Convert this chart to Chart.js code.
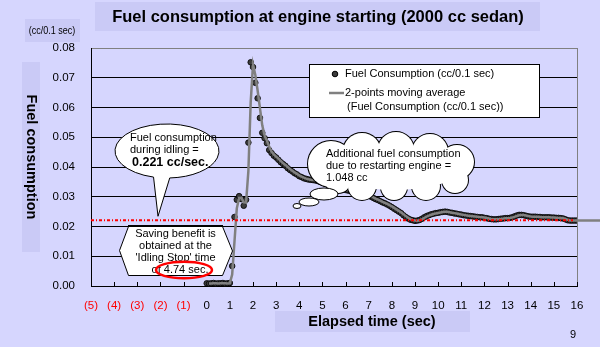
<!DOCTYPE html>
<html>
<head>
<meta charset="utf-8">
<title>Fuel consumption at engine starting</title>
<script src="https://cdn.jsdelivr.net/npm/chart.js@4"></script>
<style>
  html, body { margin: 0; padding: 0; background: #d6d6fe; }
  canvas { display: block; }
</style>
</head>
<body>
<canvas id="fuelChart" width="600" height="347"></canvas>
<script>
// fuel consumption per 0.1 s sample, starting at t = 0.0 s
const sampleStep = 0.1;
const fuelPerSample = [
  0.0009, 0.0008, 0.0009, 0.0010, 0.0008, 0.0009, 0.0009, 0.0010, 0.0008, 0.0009, 0.0010,
  0.0067, 0.0232, 0.0290, 0.0302, 0.0292, 0.0270, 0.0290, 0.0482, 0.0752,
  0.0736, 0.0683, 0.0631, 0.0565, 0.0515, 0.0497, 0.0480, 0.0457, 0.0447, 0.0438,
  0.0432, 0.0424, 0.0416, 0.0410, 0.0404, 0.0396, 0.0390, 0.0385, 0.0379, 0.0375,
  0.0369, 0.0366, 0.0362, 0.0360, 0.0358, 0.0357, 0.0356, 0.0355, 0.0353, 0.0350,
  0.0348, 0.0344, 0.0342, 0.0339, 0.0336, 0.0334, 0.0331, 0.0329, 0.0327, 0.0325,
  0.0323, 0.0321, 0.0320, 0.0318, 0.0317, 0.0315, 0.0314, 0.0313, 0.0312, 0.0310,
  0.0305, 0.0300, 0.0296, 0.0292, 0.0289, 0.0285, 0.0281, 0.0278, 0.0274, 0.0270,
  0.0265, 0.0260, 0.0255, 0.0250, 0.0245, 0.0238, 0.0232, 0.0227, 0.0223, 0.0221,
  0.0219, 0.0220, 0.0222, 0.0226, 0.0231, 0.0235, 0.0238, 0.0241, 0.0243, 0.0245,
  0.0246, 0.0248, 0.0249, 0.0250, 0.0249, 0.0247, 0.0246, 0.0244, 0.0243, 0.0241,
  0.0240, 0.0238, 0.0237, 0.0236, 0.0235, 0.0234, 0.0233, 0.0232, 0.0231, 0.0231,
  0.0229, 0.0228, 0.0226, 0.0225, 0.0224, 0.0224, 0.0225, 0.0226, 0.0227, 0.0228,
  0.0228, 0.0229, 0.0231, 0.0234, 0.0237, 0.0239, 0.0239, 0.0238, 0.0236, 0.0234,
  0.0233, 0.0233, 0.0233, 0.0232, 0.0232, 0.0231, 0.0231, 0.0231, 0.0231, 0.0230,
  0.0230, 0.0229, 0.0229, 0.0228, 0.0227, 0.0224, 0.0221, 0.0220, 0.0220, 0.0220,
  0.0220, 0.0220, 0.0221, 0.0220, 0.0221, 0.0220, 0.0220, 0.0221, 0.0220, 0.0220,
  0.0221
];

const xMin = -5, xMax = 16;          // (5)..(1) = seconds before stop, 0..16 after restart
const yMin = 0, yMax = 0.08, yStep = 0.01;
const idleRate = 0.221;              // cc/sec while idling
const extraFuel = 1.048;             // cc spent on restarting
const stopTime = 4.74;               // sec of idling stop that pays back

const FONT = '"Liberation Sans", Arial, sans-serif';
const BG = '#d6d6fe';
const BOX = '#cacaf6';

const samplePoints = fuelPerSample
  .map((v, i) => ({ x: +(i * sampleStep).toFixed(1), y: v }))
  .filter(p => p.x <= xMax);

// Excel-style 2-point moving average, plotted at the second sample
const movingAvg = [];
for (let i = 1; i < fuelPerSample.length; i++) {
  movingAvg.push({ x: +(i * sampleStep).toFixed(1), y: (fuelPerSample[i - 1] + fuelPerSample[i]) / 2 });
}

function txt(ctx, s, x, y, font, align, color) {
  ctx.font = font;
  ctx.textAlign = align || 'left';
  ctx.textBaseline = 'middle';
  ctx.fillStyle = color || '#000';
  ctx.fillText(s, x, y);
}

const decorations = {
  id: 'decorations',
  beforeDraw(chart) {
    const ctx = chart.ctx;
    ctx.save();
    ctx.fillStyle = BG;
    ctx.fillRect(0, 0, chart.width, chart.height);
    ctx.fillStyle = BOX;
    ctx.fillRect(95, 2, 445, 29);
    ctx.fillRect(25, 19, 55, 23);
    ctx.fillRect(22, 62, 18, 190);
    ctx.fillRect(275, 311, 195, 21);

    txt(ctx, 'Fuel consumption at engine starting (2000 cc sedan)', 318, 17, 'bold 16.5px ' + FONT, 'center');

    ctx.save();
    ctx.translate(52, 31);
    ctx.scale(0.9, 1.1);
    txt(ctx, '(cc/0.1 sec)', 0, 0, '10px ' + FONT, 'center');
    ctx.restore();

    ctx.save();
    ctx.translate(31, 157);
    ctx.rotate(Math.PI / 2);
    txt(ctx, 'Fuel consumption', 0, 0, 'bold 14.5px ' + FONT, 'center');
    ctx.restore();

    txt(ctx, 'Elapsed time (sec)', 372, 322, 'bold 14.5px ' + FONT, 'center');
    txt(ctx, '9', 573, 335, '11px ' + FONT, 'center');
    ctx.restore();
  },
  beforeDatasetsDraw(chart) {
    const { ctx, chartArea: a, scales: { x } } = chart;
    ctx.save();
    ctx.strokeStyle = '#808080';
    ctx.lineWidth = 1;
    ctx.beginPath();
    ctx.moveTo(Math.round(a.right) + 0.5, a.top);
    ctx.lineTo(Math.round(a.right) + 0.5, a.bottom);
    ctx.stroke();
    // inward tick marks on the time axis
    ctx.strokeStyle = '#000';
    ctx.beginPath();
    x.ticks.forEach(t => {
      const px = Math.round(x.getPixelForValue(t.value)) + 0.5;
      ctx.moveTo(px, a.bottom);
      ctx.lineTo(px, a.bottom - 4);
    });
    ctx.stroke();
    ctx.restore();
  },
  afterDatasetsDraw(chart) {
    const { ctx, scales: { x, y } } = chart;
    ctx.save();

    // idling consumption level
    const idleY = y.getPixelForValue(idleRate / 10);
    ctx.strokeStyle = '#ff0000';
    ctx.lineWidth = 2;
    ctx.setLineDash([3, 2, 1, 2]);
    ctx.beginPath();
    ctx.moveTo(x.getPixelForValue(xMin), idleY);
    ctx.lineTo(x.getPixelForValue(xMax) - 4, idleY);
    ctx.stroke();
    ctx.setLineDash([]);

    // speech bubble: idling consumption
    const d2r = Math.PI / 180;
    ctx.lineWidth = 1;
    ctx.strokeStyle = '#000';
    ctx.fillStyle = '#fff';
    ctx.beginPath();
    ctx.ellipse(167, 151, 52, 27, 0, 105 * d2r, 87 * d2r, false);
    ctx.lineTo(158, idleY - 4);
    ctx.closePath();
    ctx.fill();
    ctx.stroke();
    txt(ctx, 'Fuel consumption', 130, 138, '11px ' + FONT);
    txt(ctx, 'during idling =', 130, 150, '11px ' + FONT);
    txt(ctx, idleRate.toFixed(3) + ' cc/sec.', 132, 163, 'bold 12.5px ' + FONT);

    // hexagon box: payback time
    ctx.fillStyle = '#fff';
    ctx.beginPath();
    ctx.moveTo(128.5, 226.5);
    ctx.lineTo(222.5, 226.5);
    ctx.lineTo(232.5, 251);
    ctx.lineTo(222.5, 275.5);
    ctx.lineTo(128.5, 275.5);
    ctx.lineTo(119.5, 250.5);
    ctx.closePath();
    ctx.fill();
    ctx.stroke();
    ctx.lineWidth = 2;
    ctx.beginPath();
    ctx.moveTo(128, 226);
    ctx.lineTo(223, 226);
    ctx.stroke();
    ctx.lineWidth = 1;
    txt(ctx, 'Saving benefit is', 175.5, 234, '11px ' + FONT, 'center');
    txt(ctx, 'obtained at the', 175.5, 246, '11px ' + FONT, 'center');
    txt(ctx, "'Idling Stop' time", 175.5, 258, '11px ' + FONT, 'center');
    txt(ctx, 'of ' + stopTime.toFixed(2) + ' sec.', 180, 270, '11px ' + FONT, 'center');
    ctx.strokeStyle = '#ff0000';
    ctx.lineWidth = 2.5;
    ctx.beginPath();
    ctx.ellipse(184, 270, 28, 8.3, 0, 0, Math.PI * 2);
    ctx.stroke();

    // thought cloud: extra fuel for restarting
    const puffs = [
      [331, 164, 23], [362, 152, 19], [396, 150, 18], [430, 152, 18], [457, 162, 17],
      [455, 180, 13], [426, 186, 14], [394, 187, 13], [362, 186, 14], [338, 180, 13]
    ];
    ctx.strokeStyle = '#000';
    ctx.lineWidth = 2;
    puffs.forEach(([cx, cy, r]) => { ctx.beginPath(); ctx.arc(cx, cy, r, 0, Math.PI * 2); ctx.stroke(); });
    ctx.fillStyle = '#fff';
    puffs.forEach(([cx, cy, r]) => { ctx.beginPath(); ctx.arc(cx, cy, r, 0, Math.PI * 2); ctx.fill(); });
    ctx.beginPath();
    ctx.ellipse(394, 168, 68, 22, 0, 0, Math.PI * 2);
    ctx.fill();
    ctx.lineWidth = 1;
    [[324, 194, 14, 6], [309, 202, 10, 4], [297, 206, 4, 2.5]].forEach(([cx, cy, rx, ry]) => {
      ctx.beginPath();
      ctx.ellipse(cx, cy, rx, ry, 0, 0, Math.PI * 2);
      ctx.fill();
      ctx.stroke();
    });
    txt(ctx, 'Additional fuel consumption', 326, 154, '11px ' + FONT);
    txt(ctx, 'due to restarting engine =', 326, 166, '11px ' + FONT);
    txt(ctx, extraFuel.toFixed(3) + ' cc', 326, 178, '11px ' + FONT);

    // legend
    ctx.fillStyle = '#fff';
    ctx.fillRect(309.5, 64.5, 230, 53);
    ctx.strokeRect(309.5, 64.5, 230, 53);
    ctx.fillStyle = '#3c3c3c';
    ctx.beginPath();
    ctx.arc(335, 74, 2.8, 0, Math.PI * 2);
    ctx.fill();
    ctx.stroke();
    ctx.strokeStyle = '#808080';
    ctx.lineWidth = 2.5;
    ctx.beginPath();
    ctx.moveTo(329, 93);
    ctx.lineTo(344, 93);
    ctx.stroke();
    txt(ctx, 'Fuel Consumption (cc/0.1 sec)', 345, 74, '11px ' + FONT);
    txt(ctx, '2-points moving average', 345, 93, '11px ' + FONT);
    txt(ctx, '(Fuel Consumption (cc/0.1 sec))', 347, 107, '11px ' + FONT);

    ctx.restore();
  }
};

new Chart(document.getElementById('fuelChart'), {
  type: 'scatter',
  data: {
    datasets: [
      {
        label: '2-points moving average (Fuel Consumption (cc/0.1 sec))',
        data: movingAvg,
        showLine: true,
        borderColor: '#808080',
        borderWidth: 2.5,
        pointRadius: 0,
        tension: 0,
        clip: false,
        order: 0
      },
      {
        label: 'Fuel Consumption (cc/0.1 sec)',
        data: samplePoints,
        pointRadius: 2.8,
        pointBackgroundColor: '#3c3c3c',
        pointBorderColor: '#000',
        pointBorderWidth: 0.8,
        clip: { left: 5, top: 5, right: 0, bottom: 5 },
        order: 1
      }
    ]
  },
  options: {
    responsive: false,
    animation: false,
    devicePixelRatio: 1,
    layout: { padding: { top: 48, right: 23, left: 0, bottom: 0 } },
    plugins: { legend: { display: false }, tooltip: { enabled: false } },
    scales: {
      x: {
        type: 'linear',
        // range set here so the average line is not cut at the last tick
        afterDataLimits: s => { s.min = xMin; s.max = xMax; },
        afterFit: s => { s.height = 61; },
        grid: { drawOnChartArea: false, drawTicks: false },
        border: { display: true, color: '#000', width: 1 },
        ticks: {
          stepSize: 1,
          padding: 13,
          maxRotation: 0,
          autoSkip: false,
          font: { family: FONT, size: 11.5 },
          color: c => (c.tick.value < 0 ? '#ff0000' : '#000'),
          callback: v => (v < 0 ? '(' + (-v) + ')' : String(v))
        }
      },
      y: {
        min: yMin,
        max: yMax,
        afterFit: s => { s.width = 91; },
        grid: {
          drawTicks: false,
          color: c => (c.tick.value >= yMax - 1e-9 ? '#808080' : '#000'),
          lineWidth: 1
        },
        border: { display: true, color: '#000', width: 1 },
        ticks: {
          stepSize: yStep,
          padding: 16,
          font: { family: FONT, size: 11.5 },
          color: '#000',
          callback: v => v.toFixed(2)
        }
      }
    }
  },
  plugins: [decorations]
});
</script>
</body>
</html>
